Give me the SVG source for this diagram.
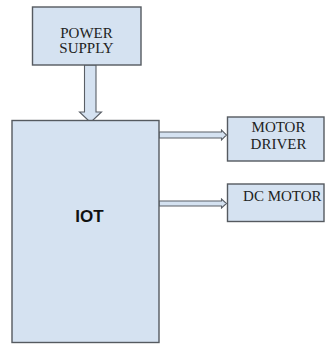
<svg xmlns="http://www.w3.org/2000/svg" width="325" height="345" viewBox="0 0 325 345">
<style>
.box{fill:#d5e2f1;stroke:#555a60;stroke-width:1.4}
.arr{fill:#d5e2f1;stroke:#5a5f66;stroke-width:1.1;stroke-linejoin:miter}
.lbl{font-family:"Liberation Serif","Times New Roman",serif;font-size:15px;fill:#222;text-anchor:middle}
.big{font-family:"Liberation Sans",Arial,sans-serif;font-size:17px;font-weight:bold;fill:#111;text-anchor:middle}
</style>
<rect width="325" height="345" fill="#ffffff"/>
<g id="connectors">
<polygon class="arr" points="84.5,65 96,65 96,112 101.5,112 90.5,122.5 79.5,112 84.5,112"/>
<polygon class="arr" points="159,132 221.5,132 221.5,130 226.5,135 221.5,140 221.5,138 159,138"/>
<polygon class="arr" points="159,201 221.5,201 221.5,199 226.5,203.5 221.5,208 221.5,206 159,206"/>
</g>
<g id="power-supply">
<rect class="box" x="32.5" y="7" width="108.5" height="58"/>
<text class="lbl" x="86.5" y="37.5">POWER</text>
<text class="lbl" x="86.5" y="53.3">SUPPLY</text>
</g>
<g id="iot">
<rect class="box" x="12" y="120.5" width="147" height="222"/>
<text class="big" x="89.5" y="222">IOT</text>
</g>
<g id="motor-driver">
<rect class="box" x="227.5" y="117" width="96.5" height="44"/>
<text class="lbl" x="278.5" y="132.3">MOTOR</text>
<text class="lbl" x="278.5" y="149.3">DRIVER</text>
</g>
<g id="dc-motor">
<rect class="box" x="227.5" y="184" width="96.5" height="37.5"/>
<text class="lbl" x="282.3" y="200.7">DC MOTOR</text>
</g>
</svg>
